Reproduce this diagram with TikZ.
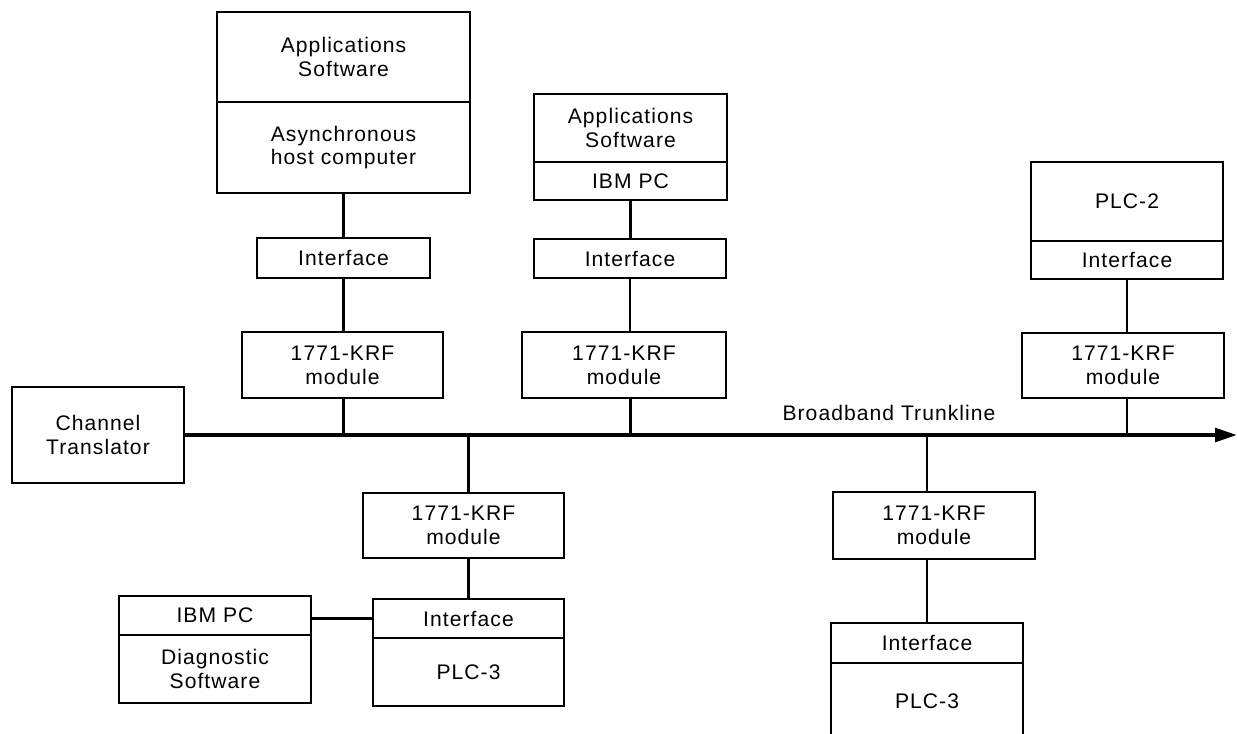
\documentclass[tikz,border=0pt]{standalone}
\usepackage{fontspec}
\setmainfont{Liberation Sans}[LetterSpace=5.0]
\usetikzlibrary{calc,arrows.meta}
\newcommand\pxl{0.025cm}
\tikzset{
  blk/.style 2 args={draw, line width=1.5pt, align=center, inner sep=0pt,
    minimum width=#1*\pxl, minimum height=#2*\pxl, font=\fontsize{15}{17}\selectfont},
  lbl/.style={inner sep=0pt, font=\fontsize{15}{17}\selectfont},
  wire/.style={line width=1.5pt},
  trunk/.style={line width=2.8pt, -{Triangle[length=0.55cm,width=0.34cm]}}
}
\begin{document}
\begin{tikzpicture}[x=\pxl, y=-\pxl]
            \clip (0,0) rectangle (1237,733);

            \node (apps1) at (343.5,57) [blk={253}{90}] {Applications\\Software};
            \node (host) at (343.5,147.5) [blk={253}{91}] {Asynchronous\\host computer};
            \node (if1) at (343.5,258) [blk={173}{40}] {Interface};
            \node (krf1) at (342.5,365) [blk={201}{66}] {1771-KRF\\module};

            \node (apps2) at (630.5,128) [blk={193}{68}] {Applications\\Software};
            \node (pc1) at (630.5,181) [blk={193}{38}] {IBM PC};
            \node (if2) at (630,258.5) [blk={192}{39}] {Interface};
            \node (krf2) at (624,365) [blk={204}{66}] {1771-KRF\\module};

            \node (plc2) at (1127,201.5) [blk={192}{79}] {PLC-2};
            \node (if3) at (1127,260) [blk={192}{38}] {Interface};
            \node (krf3) at (1123,365.5) [blk={202}{65}] {1771-KRF\\module};

            \node (chan) at (98,435) [blk={172}{96}] {Channel\\Translator};
            \coordinate (tend) at (1237,435);
            \draw [trunk] (chan.east) -- (tend);
            \node (bbt) at (889,413) [lbl] {Broadband Trunkline};

            \node (krf4) at (463.5,525.5) [blk={201}{65}] {1771-KRF\\module};
            \node (if4) at (468.5,618.5) [blk={191}{39}] {Interface};
            \node (plc3a) at (468.5,672) [blk={191}{68}] {PLC-3};
            \node (pc2) at (215,615.5) [blk={192}{39}] {IBM PC};
            \node (diag) at (215,669) [blk={192}{68}] {Diagnostic\\Software};

            \node (krf5) at (934,525.5) [blk={202}{67}] {1771-KRF\\module};
            \node (if5) at (927,643) [blk={192}{40}] {Interface};
            \node (plc3b) at (927,701.5) [blk={192}{77}] {PLC-3};

            \foreach \a/\b in {host/if1, if1/krf1, pc1/if2, if2/krf2, if3/krf3}
                \draw [wire] (\a.south) -- (\a.south |- \b.north);
            \foreach \a/\b in {krf1/host, krf2/pc1, krf3/if3}
                \draw [wire] (\a.south -| \b) -- (\b |- chan.east);
            \foreach \a/\b in {krf4/if4, krf5/if5}
                {
                    \draw [wire] (\b |- chan.east) -- (\b |- \a.north);
                    \draw [wire] (\b |- \a.south) -- (\b.north);
                }
            \draw [wire] (if4.west -| pc2.east) -- (if4.west);

        \end{tikzpicture}
\end{document}
